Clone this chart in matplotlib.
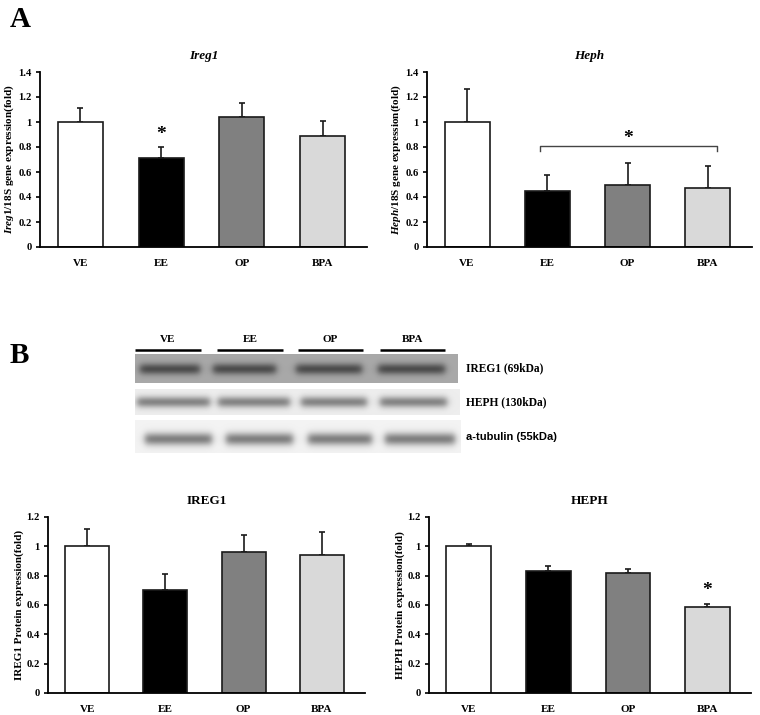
import numpy as np
import matplotlib
matplotlib.use("Agg")
import matplotlib.pyplot as plt

plt.rcParams['font.family'] = ['Liberation Serif', 'DejaVu Serif']
plt.rcParams['font.weight'] = 'bold'
plt.rcParams['mathtext.fontset'] = 'custom'
plt.rcParams['mathtext.it'] = 'Liberation Serif:italic:bold'
plt.rcParams['mathtext.rm'] = 'Liberation Serif:bold'

groups = ["VE", "EE", "OP", "BPA"]
colors = ["#ffffff", "#000000", "#808080", "#d9d9d9"]

ireg1_mrna = [1.0, 0.71, 1.04, 0.89]
ireg1_mrna_err = [0.115, 0.09, 0.115, 0.12]
heph_mrna = [1.0, 0.445, 0.50, 0.47]
heph_mrna_err = [0.265, 0.13, 0.17, 0.18]
ireg1_prot = [1.0, 0.70, 0.96, 0.94]
ireg1_prot_err = [0.12, 0.11, 0.12, 0.16]
heph_prot = [1.0, 0.83, 0.82, 0.585]
heph_prot_err = [0.015, 0.035, 0.025, 0.02]

W, H = 760, 715
fig = plt.figure(figsize=(7.6, 7.15), dpi=100)


def px_axes(x0, y_top, x1, y_bot, **kw):
    return fig.add_axes([x0 / W, 1 - y_bot / H, (x1 - x0) / W, (y_bot - y_top) / H], **kw)


def bar_panel(ax, vals, errs, ymax, title, ylabel, italic=False):
    x = np.arange(len(groups))
    ax.bar(x, vals, width=0.56, color=colors, edgecolor="#1a1a1a", linewidth=1.2, zorder=2)
    ax.errorbar(x, vals, yerr=[np.zeros(len(errs)), errs], fmt="none", ecolor="#1a1a1a",
                elinewidth=1.2, capsize=2.5, capthick=1.2, zorder=1)
    ax.set_xlim(-0.5, 3.55)
    ax.set_ylim(0, ymax)
    ticks = np.arange(0, ymax + 0.01, 0.2)
    ax.set_yticks(ticks)
    ax.set_yticklabels(["0" if v == 0 else ("1" if abs(v - 1) < 1e-9 else "%.1f" % v)
                        for v in ticks])
    ax.set_xticks(x)
    ax.set_xticklabels(groups)
    ax.tick_params(axis="x", length=0, pad=9, labelsize=8)
    ax.tick_params(axis="y", length=3, width=1.2, direction="out", labelsize=7.7, pad=3)
    for s in ["top", "right"]:
        ax.spines[s].set_visible(False)
    for s in ["left", "bottom"]:
        ax.spines[s].set_linewidth(1.3)
    ax.set_title(title, fontsize=9.5, fontweight="bold", pad=9,
                 fontstyle="italic" if italic else "normal")
    ax.set_ylabel(ylabel, fontsize=8, fontweight="bold", labelpad=2)
    ax.patch.set_alpha(0)


ax1 = px_axes(40, 72, 367, 247)
bar_panel(ax1, ireg1_mrna, ireg1_mrna_err, 1.4, "Ireg1",
          r"$\mathit{Ireg1}$/18S gene expression(fold)", italic=True)
ax1.text(1, 0.90, "*", ha="center", va="center", fontsize=14, fontweight="bold")

ax2 = px_axes(427, 72, 752, 247)
bar_panel(ax2, heph_mrna, heph_mrna_err, 1.4, "Heph",
          r"$\mathit{Heph}$/18S gene expression(fold)", italic=True)
ax2.plot([0.91, 0.91, 3.11, 3.11], [0.77, 0.81, 0.81, 0.77], color="#444444", lw=1.0)
ax2.text(2.0, 0.87, "*", ha="center", va="center", fontsize=14, fontweight="bold")

ax3 = px_axes(48, 517, 365, 693)
bar_panel(ax3, ireg1_prot, ireg1_prot_err, 1.2, "IREG1", "IREG1 Protein expression(fold)")

ax4 = px_axes(429, 517, 751, 693)
bar_panel(ax4, heph_prot, heph_prot_err, 1.2, "HEPH", "HEPH Protein expression(fold)")
ax4.text(3, 0.70, "*", ha="center", va="center", fontsize=14, fontweight="bold")

# panel letters
fig.text(10 / W, 1 - 27 / H, "A", fontsize=21, fontweight="bold")
fig.text(10 / W, 1 - 363 / H, "B", fontsize=21, fontweight="bold")

# western blot sketch
blot = fig.add_axes([0, 0, 1, 1], zorder=0)
blot.axis("off")

lane_lines = [(135, 201), (217, 283), (298, 363), (380, 445)]
for (a, b), g in zip(lane_lines, groups):
    blot.plot([a, b], [350, 350], color="black", lw=1.8, solid_capstyle="butt")
    blot.text((a + b) / 2, 340, g, ha="center", va="center", fontsize=8, fontweight="bold")

rows = [
    (354, 383, 458, 0.66, 0.30, 369, 4.0,
     [(140, 200), (213, 276), (296, 362), (378, 445)], "IREG1 (69kDa)", "serif"),
    (389, 415, 460, 0.93, 0.52, 402, 4.0,
     [(137, 210), (218, 290), (301, 367), (380, 447)], "HEPH (130kDa)", "serif"),
    (420, 453, 461, 0.95, 0.50, 439, 4.5,
     [(145, 212), (226, 293), (308, 372), (385, 455)], "a-tubulin (55kDa)", "sans"),
]
for yt, yb, xr, bg, dark, yc, hh, lanes, label, fam in rows:
    xs = np.arange(135, xr) + 0.5
    ys = np.arange(yt, yb) + 0.5
    img = np.full((len(ys), len(xs)), bg)
    for la, lb in lanes:
        env_x = 1 / (1 + np.exp(-(xs - la) / 2.0)) / (1 + np.exp((xs - lb) / 2.0))
        env_y = np.exp(-0.5 * ((ys - yc) / hh) ** 2)
        img -= (bg - dark) * np.outer(env_y, env_x)
    blot.imshow(img, cmap="gray", vmin=0, vmax=1, extent=[135, xr, yb, yt],
                interpolation="bilinear", aspect="auto")
    if fam == "sans":
        blot.text(466, (yt + yb) / 2, label, ha="left", va="center", fontsize=8,
                  fontweight="bold", family=["Liberation Sans", "DejaVu Sans"])
    else:
        blot.text(466, (yt + yb) / 2, label, ha="left", va="center", fontsize=8.3,
                  fontweight="bold")
blot.set_xlim(0, W)
blot.set_ylim(H, 0)

fig.savefig("out.png", dpi=100)
